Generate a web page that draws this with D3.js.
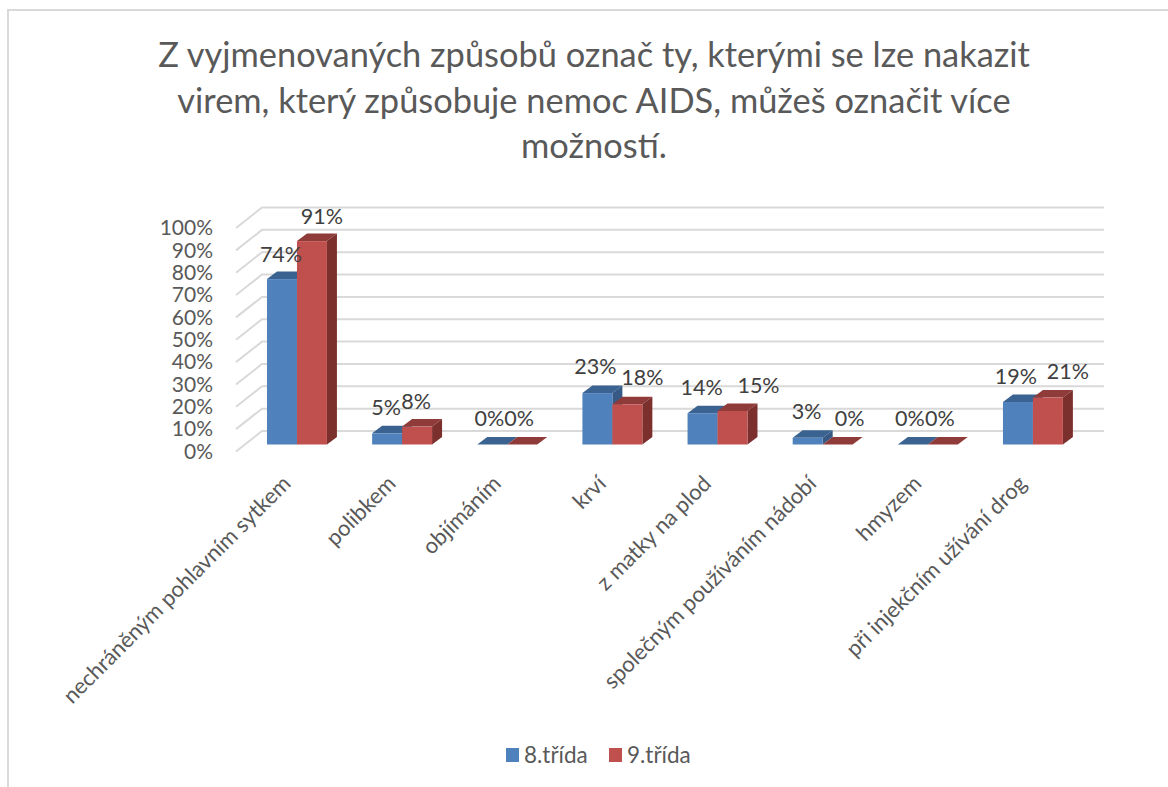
<!DOCTYPE html>
<html><head><meta charset="utf-8">
<script src="https://cdn.jsdelivr.net/npm/d3@7/dist/d3.min.js"></script>
<style>html,body{margin:0;padding:0;background:#fff;overflow:hidden}svg{display:block}text{font-family:Lato,"Open Sans",sans-serif}</style>
</head><body><svg id="c" width="1168" height="787"></svg>
<script>
const titleLines = ["Z vyjmenovaných způsobů označ ty, kterými se lze nakazit","virem, který způsobuje nemoc AIDS, můžeš označit více","možností."];
const categories = ["nechráněným pohlavním sytkem","polibkem","objímáním","krví","z matky na plod","společným používáním nádobí","hmyzem","při injekčním užívání drog"];
const seriesNames = ["8.třída","9.třída"];
const values8 = [74,5,0,23,14,3,0,19];
const values9 = [91,8,0,18,15,0,0,21];
const yTicks = [0,10,20,30,40,50,60,70,80,90,100];

const svg = d3.select("#c");
const colors = {
  "8.třída":{front:"#4F81BD",top:"#3A6391",side:"#365A85"},
  "9.třída":{front:"#C0504D",top:"#8F3B39",side:"#7B302E"}
};
const x = d3.scaleBand().domain(categories).range([244.4,1085.5]).paddingInner(0.43).paddingOuter(0.215);
const xs = d3.scaleBand().domain(seriesNames).range([0,x.bandwidth()]);
const y = d3.scaleLinear().domain([0,100]).range([444.5,221]);
const depth = {dx:10,dy:-7.5}, wallBack = {x:262,dy:-13.5}, wallFront = {x:236,dy:7};

svg.append("path").attr("d","M8,787V10H1168").attr("fill","none").attr("stroke","#D9D9D9").attr("stroke-width",2);

svg.append("g").selectAll("text").data(titleLines).join("text")
  .attr("x",594).attr("y",(d,i)=>[67,113,158][i]).attr("text-anchor","middle")
  .attr("font-size",34.4).attr("fill","#595959").text(d=>d);

svg.append("g").selectAll("path").data(yTicks).join("path")
  .attr("d",d=>`M${wallFront.x},${y(d)+wallFront.dy}L${wallBack.x},${y(d)+wallBack.dy}H1104`)
  .attr("fill","none").attr("stroke","#D9D9D9").attr("stroke-width",2);

const ya = svg.append("g").attr("transform","translate(218,7)")
  .call(d3.axisLeft(y).tickValues(yTicks).tickSize(0).tickPadding(5).tickFormat(d=>d+"%"));
ya.select(".domain").remove();
ya.selectAll("text").attr("font-size",21).attr("fill","#595959").style("font-family","Lato");

const xa = svg.append("g").attr("transform","translate(0,466)")
  .call(d3.axisBottom(x).tickSize(0).tickPadding(0));
xa.select(".domain").remove();
xa.selectAll("text").attr("font-size",22).attr("fill","#595959").style("font-family","Lato")
  .attr("text-anchor","end").attr("dy",0).attr("y",0)
  .attr("transform","translate(-5,19) rotate(-45)");

const series = [{name:seriesNames[0],vals:values8},{name:seriesNames[1],vals:values9}];
const barG = svg.append("g");
categories.forEach((c,i)=>{
  series.forEach(s=>{
    const v=s.vals[i], col=colors[s.name], x0=x(c)+xs(s.name), w=xs.bandwidth(), b=y(0), t=y(v);
    const g=barG.append("g");
    g.append("path").attr("d",`M${x0},${t}l${depth.dx},${depth.dy}h${w}l${-depth.dx},${-depth.dy}z`).attr("fill",col.top);
    g.append("path").attr("d",`M${x0+w},${t}l${depth.dx},${depth.dy}V${b+depth.dy}l${-depth.dx},${-depth.dy}z`).attr("fill",col.side);
    if(v>0) g.append("rect").attr("x",x0).attr("y",t).attr("width",w).attr("height",b-t).attr("fill",col.front);
  });
});

const nudge8 = [[-1,-25],[-1,-26],[-3,-26],[-2,-27],[-1,-26],[-1,-27],[-3,-26],[-2,-26]];
const nudge9 = [[10,-25],[-1,-25],[-3,-26],[15,-27],[26,-26],[12,-26],[-3,-26],[20,-26]];
const lab = svg.append("g");
series.forEach((s,si)=>{
  const n = si===0?nudge8:nudge9;
  s.vals.forEach((v,i)=>{
    lab.append("text")
      .attr("x",x(categories[i])+xs(s.name)+xs.bandwidth()/2+n[i][0])
      .attr("y",y(v)+n[i][1]).attr("dy","0.36em")
      .attr("text-anchor","middle").attr("font-size",21.5).attr("fill","#404040").text(v+"%");
  });
});

const lx = d3.scalePoint().domain(seriesNames).range([506,609]);
const lg = svg.append("g").selectAll("g").data(seriesNames).join("g").attr("transform",d=>`translate(${lx(d)},748)`);
lg.append("rect").attr("width",13).attr("height",14).attr("fill",d=>colors[d].front);
lg.append("text").attr("x",18).attr("y",14.5).attr("font-size",22.5).attr("fill","#595959").text(d=>d);
</script></body></html>
